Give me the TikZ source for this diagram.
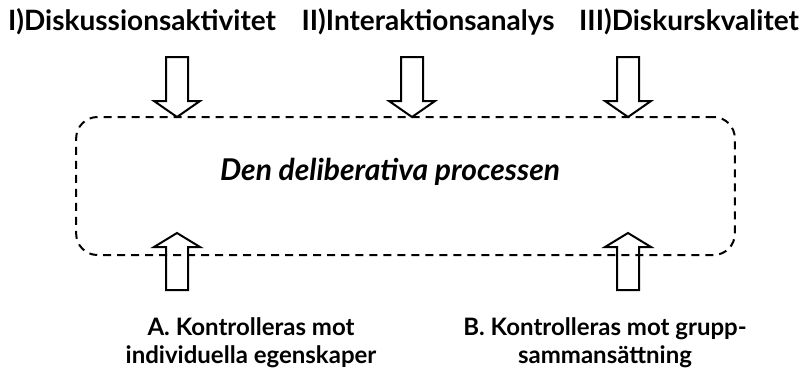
\documentclass[tikz,border=0pt]{standalone}
\usepackage{fontspec}
\setmainfont{Lato}
\begin{document}
\begin{tikzpicture}[x=0.75pt,y=-0.75pt,
  title/.style={font=\fontsize{21}{25}\selectfont\bfseries, inner sep=0pt, anchor=center},
  bottomtxt/.style={font=\fontsize{18}{21}\selectfont\bfseries, inner sep=0pt, align=center, anchor=center},
  proctxt/.style={font=\fontsize{22.5}{26}\selectfont\bfseries\itshape, inner sep=0pt},
  procbox/.style={draw, line width=1.5pt, dash pattern=on 6pt off 4.5pt, rounded corners=16pt, minimum width=494pt, minimum height=103.5pt, inner sep=0pt},
  arrowline/.style={draw, line width=1.5pt, line join=miter},
  dnarrow/.pic={\draw[arrowline] (-11,0) -- (-11,44) -- (-23,44) -- (0,60) -- (23,44) -- (11,44) -- (11,0) -- cycle;},
  uparrow/.pic={\draw[arrowline] (-11,0) -- (-11,-43) -- (-23,-43) -- (0,-57) -- (23,-43) -- (11,-43) -- (11,0) -- cycle;}
]
\useasboundingbox (0,0) rectangle (806,380);
\node[procbox] (box) at (405.5,186) {};
\node[proctxt] (proc) at (390,172) {Den deliberativa processen};
\node[title] (t1) at (142,22) {I)Diskussionsaktivitet};
\node[title] (t2) at (428,22) {II)Interaktionsanalys};
\node[title] (t3) at (689,22) {III)Diskurskvalitet};
\pic at (177,57) {dnarrow};
\pic at (412,57) {dnarrow};
\pic at (628,57) {dnarrow};
\pic at (177,290) {uparrow};
\pic at (628,290) {uparrow};
\node[bottomtxt] (a) at (251,343) {A. Kontrolleras mot\\individuella egenskaper};
\node[bottomtxt] (b) at (605,343) {B. Kontrolleras mot grupp-\\sammansättning};
\end{tikzpicture}
\end{document}
